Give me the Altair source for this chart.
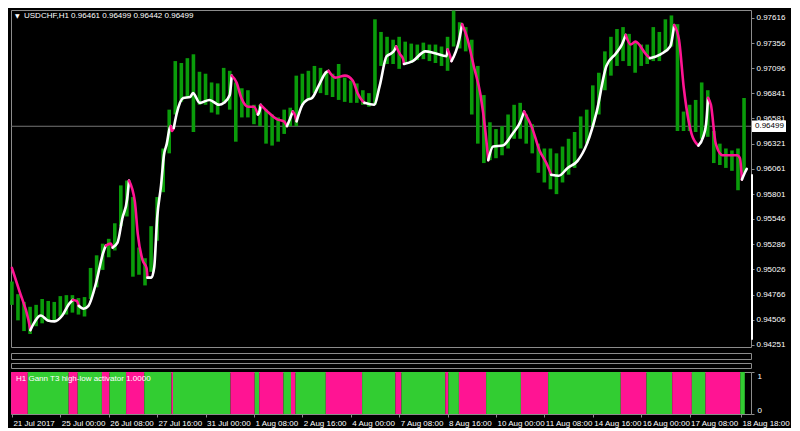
import altair as alt
import pandas as pd

# ---------------- data ----------------
title_text = "USDCHF,H1  0.96461 0.96499 0.96442 0.96499"
indicator_text = "H1 Gann T3 high-low activator 1.0000"
current_price = 0.96499

tick_idx = [0, 32, 64, 96, 128, 160, 192, 224, 256, 288, 320, 352, 384, 416, 448, 482]
tick_lab = ["21 Jul 2017", "25 Jul 00:00", "26 Jul 08:00", "27 Jul 16:00", "31 Jul 00:00",
            "1 Aug 08:00", "2 Aug 16:00", "4 Aug 00:00", "7 Aug 08:00", "8 Aug 16:00",
            "10 Aug 00:00", "11 Aug 08:00", "14 Aug 16:00", "16 Aug 00:00", "17 Aug 08:00",
            "18 Aug 18:00"]
price_ticks = [0.97616, 0.97356, 0.97096, 0.96841, 0.96581, 0.96321, 0.96061, 0.95801,
               0.95546, 0.95286, 0.95026, 0.94766, 0.94506, 0.94251]

# hourly bars, one column per 4 bars (bar index)
bar_index = list(range(0, 485, 4))
bar_high = [0.9490, 0.9477, 0.9469, 0.9464, 0.9466, 0.9472, 0.9470, 0.9469, 0.9475, 0.9476,
            0.9476, 0.9473, 0.9474, 0.9504, 0.9517, 0.9529, 0.9534, 0.9550, 0.9589, 0.9594,
            0.9577, 0.9525, 0.9514, 0.9547, 0.9577, 0.9627, 0.9667, 0.9717, 0.9715, 0.9720,
            0.9724, 0.9706, 0.9704, 0.9695, 0.9694, 0.9710, 0.9707, 0.9695, 0.9689, 0.9687,
            0.9672, 0.9672, 0.9667, 0.9662, 0.9659, 0.9667, 0.9669, 0.9702, 0.9704, 0.9707,
            0.9712, 0.9710, 0.9707, 0.9704, 0.9714, 0.9700, 0.9697, 0.9694, 0.9687, 0.9684,
            0.9760, 0.9747, 0.9742, 0.9739, 0.9742, 0.9737, 0.9735, 0.9734, 0.9736, 0.9734,
            0.9734, 0.9732, 0.9742, 0.9769, 0.9757, 0.9752, 0.9739, 0.9712, 0.9682, 0.9654,
            0.9647, 0.9650, 0.9662, 0.9672, 0.9674, 0.9662, 0.9652, 0.9632, 0.9627, 0.9627,
            0.9622, 0.9629, 0.9637, 0.9644, 0.9660, 0.9667, 0.9692, 0.9705, 0.9727, 0.9742,
            0.9750, 0.9752, 0.9745, 0.9737, 0.9734, 0.9734, 0.9752, 0.9747, 0.9760, 0.9764,
            0.9755, 0.9665, 0.9672, 0.9677, 0.9695, 0.9687, 0.9645, 0.9632, 0.9627, 0.9625,
            0.9627, 0.9679]
bar_low = [0.9466, 0.9450, 0.9439, 0.9436, 0.9444, 0.9447, 0.9449, 0.9450, 0.9454, 0.9456,
           0.9458, 0.9456, 0.9454, 0.9472, 0.9484, 0.9502, 0.9515, 0.9522, 0.9547, 0.9557,
           0.9495, 0.9497, 0.9486, 0.9500, 0.9532, 0.9582, 0.9622, 0.9662, 0.9675, 0.9680,
           0.9644, 0.9672, 0.9672, 0.9664, 0.9662, 0.9675, 0.9667, 0.9634, 0.9659, 0.9659,
           0.9652, 0.9650, 0.9632, 0.9630, 0.9634, 0.9642, 0.9650, 0.9650, 0.9672, 0.9677,
           0.9684, 0.9684, 0.9682, 0.9680, 0.9677, 0.9675, 0.9674, 0.9674, 0.9672, 0.9670,
           0.9672, 0.9712, 0.9714, 0.9714, 0.9709, 0.9715, 0.9715, 0.9718, 0.9719, 0.9717,
           0.9715, 0.9712, 0.9707, 0.9732, 0.9730, 0.9727, 0.9662, 0.9632, 0.9612, 0.9615,
           0.9617, 0.9620, 0.9627, 0.9637, 0.9637, 0.9632, 0.9622, 0.9602, 0.9592, 0.9585,
           0.9580, 0.9592, 0.9600, 0.9607, 0.9627, 0.9632, 0.9649, 0.9662, 0.9687, 0.9702,
           0.9712, 0.9717, 0.9712, 0.9705, 0.9712, 0.9714, 0.9717, 0.9717, 0.9727, 0.9732,
           0.9645, 0.9645, 0.9645, 0.9644, 0.9637, 0.9639, 0.9612, 0.9610, 0.9607, 0.9604,
           0.9584, 0.9602]

# Gann T3 activator line, segment by segment (d = down / pink, u = up / white)
t3_state = ["d", "u", "d", "u", "d", "u", "d", "u", "d", "u", "d", "u", "d", "u", "d", "u",
            "d", "u", "d", "u", "d", "u", "d", "u", "d", "u", "d", "u", "d", "u", "d", "u"]
t3_idx = [
    [0, 5, 11],
    [12.2, 19.2, 23.7, 28.2, 33.3, 37.8],
    [40.3, 42.9],
    [44.2, 47.4, 50.6, 55.7, 60.2],
    [62.1, 65.3],
    [66.6, 69.8, 73, 76.2],
    [77.4, 81.3, 83.2, 86.4, 89],
    [89.6, 92.2, 94.1, 96, 98.6, 100.5, 102.4, 104.3],
    [105, 105.6],
    [107, 108.8, 113.3, 117.8, 119.7, 124.2, 130.6, 137, 140.2, 144],
    [145.3, 148.5, 151.7, 156.2, 160],
    [162.6, 163.8],
    [164.5, 169, 175.4, 179.8],
    [181.8, 183.7],
    [185.6, 187],
    [188.2, 192, 195.2, 198.4, 202.9, 207.4],
    [209.3, 213.8, 220.2, 225.3, 228.5, 231.7],
    [233, 239.4, 243.2, 247.7, 250.9, 252.8],
    [254, 256.6, 258.6],
    [259.2, 265, 273.3, 279.7, 287.4],
    [288, 289.3],
    [290.6, 295.7],
    [297.6, 300.8, 305.3, 309.8, 313],
    [314.9, 318.1, 324.5, 330.9, 336],
    [338.6, 343.7, 348.8, 353.3],
    [356.5, 361.6, 367.4, 373.8, 380.2, 386.6, 393, 399.4, 403.2],
    [405.8, 409, 412.2, 419.2],
    [421.8, 428.8, 435.2],
    [437.8, 441, 444.2, 447.4, 449.3],
    [453.8, 457, 458.9],
    [460.2, 462.1, 465.3, 469.8, 476.2, 479.4, 481.3],
    [482.6, 484.5, 485.8],
]
t3_price = [
    [0.9504, 0.9480, 0.9450],
    [0.9440, 0.9455, 0.9450, 0.9449, 0.9455, 0.9467],
    [0.9471, 0.9470],
    [0.9465, 0.9462, 0.9465, 0.9489, 0.9519],
    [0.9527, 0.9529],
    [0.9525, 0.9530, 0.9555, 0.9575],
    [0.9594, 0.9572, 0.9539, 0.9512, 0.9504],
    [0.9494, 0.9494, 0.9505, 0.9555, 0.9589, 0.9620, 0.9632, 0.9648],
    [0.9650, 0.9645],
    [0.9648, 0.9662, 0.9679, 0.9680, 0.9684, 0.9674, 0.9677, 0.9672, 0.9674, 0.9682],
    [0.9702, 0.9695, 0.9679, 0.9670, 0.9670],
    [0.9662, 0.9666],
    [0.9672, 0.9665, 0.9657, 0.9655],
    [0.9650, 0.9657],
    [0.9665, 0.9662],
    [0.9655, 0.9672, 0.9677, 0.9679, 0.9692, 0.9705],
    [0.9707, 0.9700, 0.9702, 0.9697, 0.9684, 0.9676],
    [0.9674, 0.9672, 0.9692, 0.9722, 0.9725, 0.9728],
    [0.9732, 0.9724, 0.9719],
    [0.9714, 0.9717, 0.9727, 0.9725, 0.9722],
    [0.9729, 0.9724],
    [0.9717, 0.9739],
    [0.9755, 0.9742, 0.9712, 0.9682, 0.9645],
    [0.9615, 0.9629, 0.9630, 0.9642, 0.9654],
    [0.9665, 0.9649, 0.9625, 0.9612],
    [0.9600, 0.9599, 0.9607, 0.9614, 0.9632, 0.9665, 0.9712, 0.9725, 0.9734],
    [0.9744, 0.9734, 0.9737, 0.9724],
    [0.9720, 0.9724, 0.9732],
    [0.9754, 0.9739, 0.9689, 0.9655, 0.9642],
    [0.9630, 0.9639, 0.9652],
    [0.9679, 0.9672, 0.9632, 0.9620, 0.9620, 0.9620, 0.9617],
    [0.9595, 0.9602, 0.9606],
]

# activator histogram runs (bar index start/end, state)
hist_start = [0, 11, 38, 44, 60, 65, 76, 88, 106, 107, 145, 161, 164, 180, 185, 188,
              208, 232, 254, 258, 287, 289, 296, 314, 337, 355, 403, 420, 437, 450, 459, 482]
hist_end = [11, 38, 44, 60, 65, 76, 88, 106, 107, 145, 161, 164, 180, 185, 188, 208,
            232, 254, 258, 287, 289, 296, 314, 337, 355, 403, 420, 437, 450, 459, 482, 485]
hist_state = ["sell", "buy", "sell", "buy", "sell", "buy", "sell", "buy", "sell", "buy",
              "sell", "buy", "sell", "buy", "sell", "buy", "sell", "buy", "sell", "buy",
              "sell", "buy", "sell", "buy", "sell", "buy", "sell", "buy", "sell", "buy",
              "sell", "buy"]

# ---------------- layout / style ----------------
W = 740
H_MAIN = 337
H_SUB1 = 6
H_SUB2 = 5
H_IND = 42
X_DOMAIN = [-0.6, 488.6]
Y_DOMAIN = [0.94226, 0.97696]

GREEN_BAR = "#0a9c0a"
PINK = "#ff1493"
HIST_GREEN = "#32cd32"
WHITE = "#ffffff"
BORDER = "#8c8c8c"
FONT = "Liberation Sans"
FS = 8

# ---------------- tables ----------------
bars_df = pd.DataFrame({"i": bar_index, "high": bar_high, "low": bar_low})

rows = []
for s, (st, ii, pp) in enumerate(zip(t3_state, t3_idx, t3_price)):
    for a, b in zip(ii, pp):
        rows.append({"i": a, "p": b, "seg": s, "state": st})
    if s + 1 < len(t3_idx):  # join to the next segment
        rows.append({"i": t3_idx[s + 1][0], "p": t3_price[s + 1][0], "seg": s, "state": st})
t3_df = pd.DataFrame(rows)

hist_df = pd.DataFrame({
    "x0": [a - 0.5 for a in hist_start],
    "x1": [b - 0.5 for b in hist_end],
    "sig": hist_state,
    "y0": [0] * len(hist_start),
    "y1": [1] * len(hist_start),
})

xs = alt.Scale(domain=X_DOMAIN, nice=False, zero=False)
ys = alt.Scale(domain=Y_DOMAIN, nice=False, zero=False)

price_axis = alt.Axis(orient="right", values=price_ticks, format=".5f", title=None, grid=False,
                      domain=False, tickSize=3, tickColor=BORDER, labelColor=WHITE,
                      labelFont=FONT, labelFontSize=FS, labelPadding=2, labelFlush=False,
                      labelOverlap=False)


def py(field):
    return alt.Y(field, scale=ys, axis=price_axis, title=None)


def px(field):
    return alt.X(field, scale=xs, axis=None, title=None)


cur_rule = alt.Chart(pd.DataFrame({"p": [current_price]})).mark_rule(
    color="#767676", strokeWidth=1).encode(y=py("p:Q"))

bars = alt.Chart(bars_df).mark_rule(color=GREEN_BAR, strokeWidth=3.6).encode(
    x=px("i:Q"), y=py("low:Q"), y2="high:Q")

lines = alt.Chart(t3_df).mark_line(strokeWidth=2.6, interpolate="monotone",
                                   strokeJoin="round", strokeCap="round").encode(
    x=px("i:Q"),
    y=py("p:Q"),
    detail="seg:N",
    order="i:Q",
    color=alt.Color("state:N", scale=alt.Scale(domain=["u", "d"], range=[WHITE, PINK]), legend=None),
)

title_mark = alt.Chart(pd.DataFrame({"t": [title_text]})).mark_text(
    align="left", baseline="middle", color=WHITE, font=FONT, fontSize=FS).encode(
    x=alt.value(13), y=alt.value(6), text="t:N")
tri_mark = alt.Chart(pd.DataFrame({"t": ["\u25bc"]})).mark_text(
    align="left", baseline="middle", color=WHITE, font="DejaVu Sans", fontSize=6).encode(
    x=alt.value(4), y=alt.value(6), text="t:N")

box_df = pd.DataFrame({"top": [current_price + 0.0006], "bot": [current_price - 0.0006],
                       "p": [current_price], "label": [f"{current_price:.5f}"]})
price_box = alt.Chart(box_df).mark_rect(color=WHITE).encode(
    x=alt.value(W + 1), x2=alt.value(W + 35), y=py("top:Q"), y2="bot:Q")
price_txt = alt.Chart(box_df).mark_text(align="left", baseline="middle", color="#000000",
                                        font=FONT, fontSize=FS).encode(
    x=alt.value(W + 4), y=py("p:Q"), text="label:N")

edge_df = pd.DataFrame({"top": [0.96006], "bot": [0.94300]})
edge = alt.Chart(edge_df).mark_rule(color=WHITE, strokeWidth=2).encode(
    x=alt.value(W + 1), y=py("top:Q"), y2="bot:Q")

main = alt.layer(cur_rule, bars, lines, title_mark, tri_mark, price_box, price_txt, edge).properties(
    width=W, height=H_MAIN)

empty_df = pd.DataFrame({"v": [0]})


def empty_panel(h):
    return alt.Chart(empty_df).mark_point(opacity=0).encode(
        x=alt.X("v:Q", scale=xs, axis=None), y=alt.Y("v:Q", axis=None)
    ).properties(width=W, height=h)


label_expr = "[" + ",".join(f"'{t}'" for t in tick_lab) + "][indexof([" + \
    ",".join(str(v) for v in tick_idx) + "], datum.value)]"

x_axis = alt.Axis(values=tick_idx, labelExpr=label_expr, title=None, grid=False, domain=False,
                  tickSize=3, tickColor=BORDER, labelColor=WHITE, labelFont=FONT,
                  labelFontSize=FS, labelAlign="left", labelPadding=2, labelOffset=1,
                  labelOverlap=False, labelFlush=False, labelBound=False)
ind_axis = alt.Axis(orient="right", values=[0, 1], format="d", title=None, grid=False,
                    domain=False, tickSize=3, tickColor=BORDER, labelColor=WHITE,
                    labelFont=FONT, labelFontSize=FS, labelPadding=3, labelFlush=True)

hist = alt.Chart(hist_df).mark_rect().encode(
    x=alt.X("x0:Q", scale=xs, axis=x_axis, title=None),
    x2="x1:Q",
    y=alt.Y("y0:Q", scale=alt.Scale(domain=[0, 1], nice=False), axis=ind_axis, title=None),
    y2="y1:Q",
    color=alt.Color("sig:N", scale=alt.Scale(domain=["buy", "sell"], range=[HIST_GREEN, PINK]),
                    legend=None),
)
ind_label = alt.Chart(pd.DataFrame({"t": [indicator_text]})).mark_text(
    align="left", baseline="middle", color=WHITE, font=FONT, fontSize=FS).encode(
    x=alt.value(5), y=alt.value(7), text="t:N")

indicator = alt.layer(hist, ind_label).properties(width=W, height=H_IND)

chart = alt.vconcat(main, empty_panel(H_SUB1), empty_panel(H_SUB2), indicator, spacing=2).resolve_scale(
    color="independent"
).properties(
    padding=0, background="#000000"
).configure_view(stroke=BORDER, strokeWidth=1, fill="#000000")

chart.save("out.html", embed_options={"renderer": "svg", "actions": False})
